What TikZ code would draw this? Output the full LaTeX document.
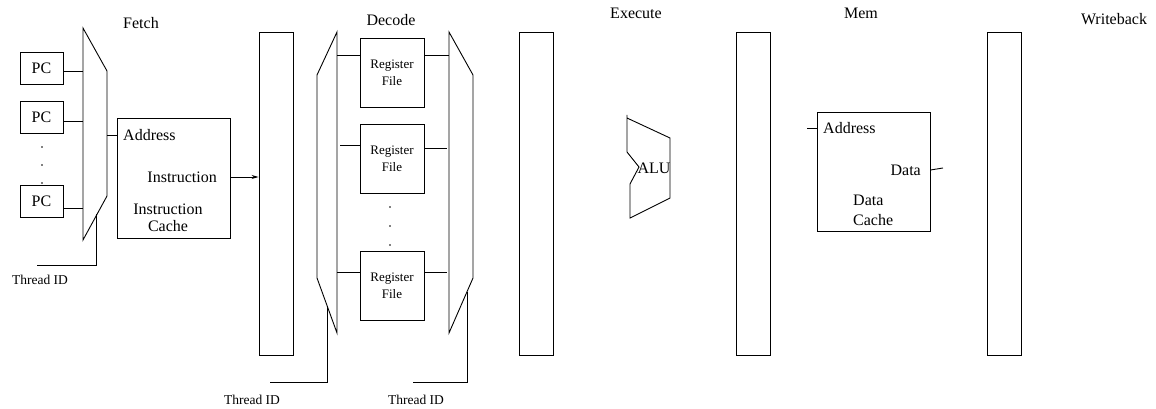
\documentclass[tikz,border=0pt]{standalone}
\usepackage{fontspec}
\setmainfont{Liberation Serif}
\usetikzlibrary{arrows.meta,calc}

\tikzset{
	wire/.style={line width=0.9pt},
	pcbox/.style={draw, line width=0.9pt, minimum width=43pt, minimum height=32pt, inner sep=0pt, font=\fontsize{16}{19}\selectfont},
	pipereg/.style={draw, line width=0.9pt, minimum width=34pt, minimum height=323pt, inner sep=0pt},
	regfile/.style={draw, line width=0.9pt, minimum width=64pt, minimum height=69pt, inner sep=0pt, align=center, font=\fontsize{13}{17}\selectfont},
	cachebox/.style={draw, line width=0.9pt, minimum width=113pt, minimum height=120pt, inner sep=0pt},
	txt/.style={inner sep=0pt, font=\fontsize{16}{19}\selectfont},
	tid/.style={inner sep=0pt, font=\fontsize{13.5}{16}\selectfont},
}

\begin{document}
\begin{tikzpicture}[x=1pt, y=-1pt]
	\useasboundingbox (0,0) rectangle (1156,409);
	
	% stage names
	\node[txt] (fetch) at (141,23) {Fetch};
	\node[txt] (decode) at (391,20) {Decode};
	\node[txt] (execute) at (636,13) {Execute};
	\node[txt] (mem) at (861,13) {Mem};
	\node[txt] (writeback) at (1114,19) {Writeback};
	
	% pipeline registers
	\node[pipereg] (reg1) at (276,193.5) {};
	\node[pipereg] (reg2) at (536.5,193.5) {};
	\node[pipereg] (reg3) at (753.5,193.5) {};
	\node[pipereg] (reg4) at (1004,193.5) {};
	
	% fetch
	\node[pcbox] (pc1) at (41.5,68) {PC};
	\node[pcbox] (pc2) at (41.5,117.5) {PC};
	\node[pcbox] (pc3) at (41.5,201.5) {PC};
	\foreach \y in {147,165,183}
		\fill (42,\y) circle (0.9);
	
	\coordinate (fmA) at (83,28);
	\coordinate (fmB) at (107,71);
	\coordinate (fmC) at (107,196);
	\coordinate (fmD) at (83,240);
	\draw[wire] (fmA) -- (fmB) -- (fmC) -- (fmD) -- cycle;
	
	\draw[wire] (pc1.east |- 0,71) -- (fmA |- 0,71);
	\draw[wire] (pc2.east |- 0,121) -- (fmA |- 0,121);
	\draw[wire] (pc3.east |- 0,208) -- (fmA |- 0,208);
	
	\coordinate (ftid) at ($(fmC)!0.42!(fmD)$);
	\coordinate (ftidend) at (37,265);
	\draw[wire] (ftid) |- (ftidend);
	\node[tid] (tid1) at (40,280) {Thread ID};
	
	\node[cachebox] (icache) at (173.5,178) {};
	\node[txt, anchor=west] (iaddr) at (123,135) {Address};
	\node[txt, anchor=east] (iout) at (217,177) {Instruction};
	\node[txt, align=center, font=\fontsize{16}{17}\selectfont] (iname) at (168,218) {Instruction\\Cache};
	
	\draw[wire] (fmB |- iaddr) -- (icache.west |- iaddr);
	\draw[wire, -{Stealth[length=7pt,width=4pt]}] (icache.east |- iout) -- (reg1.west |- iout);
	
	% decode
	\coordinate (dlA) at (337,32);
	\coordinate (dlB) at (317,75);
	\coordinate (dlC) at (317,278);
	\coordinate (dlD) at (337,333);
	\draw[wire] (dlA) -- (dlB) -- (dlC) -- (dlD) -- cycle;
	
	\coordinate (drA) at (449,32);
	\coordinate (drB) at (473,75);
	\coordinate (drC) at (473,278);
	\coordinate (drD) at (449,333);
	\draw[wire] (drA) -- (drB) -- (drC) -- (drD) -- cycle;
	
	\node[regfile] (rf1) at (392,72.5) {Register\\File};
	\node[regfile] (rf2) at (392,159) {Register\\File};
	\node[regfile] (rf3) at (392,286) {Register\\File};
	\foreach \y in {207,226,245}
		\fill (390,\y) circle (0.9);
	
	\coordinate (rf2stub) at (340,145);
	\draw[wire] (dlA |- 0,55) -- (rf1.west |- 0,55);
	\draw[wire] (rf2stub) -- (rf2.west |- rf2stub);
	\draw[wire] (dlA |- 0,272) -- (rf3.west |- 0,272);
	\coordinate (rf2out) at (447,148);
	\draw[wire] (rf1.east |- 0,55) -- (drA |- 0,55);
	\draw[wire] (rf2.east |- rf2out) -- (rf2out);
	\draw[wire] (rf3.east |- 0,272) -- (rf2out |- 0,272);
	
	\coordinate (dltid) at ($(dlC)!0.5!(dlD)$);
	\coordinate (dltidend) at (270,382);
	\draw[wire] (dltid) |- (dltidend);
	\node[tid] (tid2) at (252,400) {Thread ID};
	
	\coordinate (drtid) at ($(drC)!0.25!(drD)$);
	\coordinate (drtidend) at (413,382);
	\draw[wire] (drtid) |- (drtidend);
	\node[tid] (tid3) at (416,400) {Thread ID};
	
	% execute
	\draw[wire] (627,115) -- (627,152) -- (639,167) -- (630,184) -- (630,218)
		-- (670,198) -- (670,138) -- (627,118);
	\node[txt] (alu) at (654,168) {ALU};
	
	% mem
	\node[cachebox, minimum height=119pt] (dcache) at (873.5,171.5) {};
	\node[txt, anchor=west] (daddr) at (823,128) {Address};
	\node[txt, anchor=east] (dout) at (921,170) {Data};
	\node[txt, anchor=west, align=left, font=\fontsize{16}{20}\selectfont] (dname) at (853,210) {Data\\Cache};
	
	\coordinate (daddrin) at (807,128);
	\draw[wire] (daddrin) -- (dcache.west |- daddr);
	\coordinate (doutend) at (943,168);
	\draw[wire] (dcache.east |- dout) -- (doutend);
\end{tikzpicture}
\end{document}
